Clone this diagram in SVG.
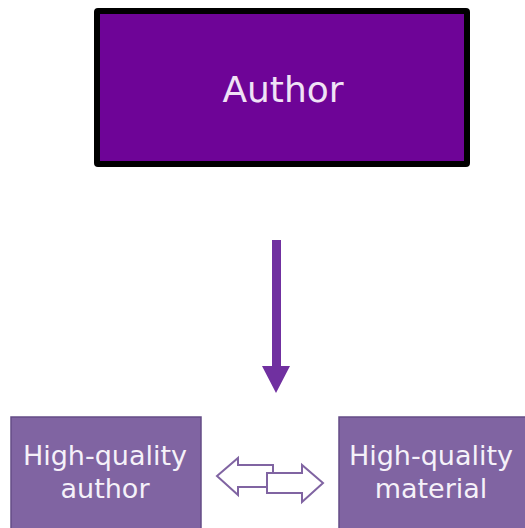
<svg xmlns="http://www.w3.org/2000/svg" width="525" height="528" viewBox="0 0 525 528">
<style>
.lbl{font-family:"DejaVu Sans","Liberation Sans",sans-serif;text-anchor:middle}
.box{fill:#8064a2;stroke:#644c86;stroke-width:1.5}
.dbl{fill:#ffffff;stroke:#8064a2;stroke-width:2;stroke-linejoin:miter}
</style>
<rect width="525" height="528" fill="#ffffff"/>
<g id="author">
<rect x="97" y="11" width="370" height="153" fill="#6e0497" stroke="#000000" stroke-width="6" rx="1"/>
<text class="lbl" x="283" y="102" font-size="36" fill="#f0e2f6">Author</text>
</g>
<g id="connectors">
<polygon points="272,240 281,240 281,366 290,366 276,393 262,366 272,366" fill="#7030a0"/>
<polygon class="dbl" points="217,476 238,458 238,465 273,465 273,487 238,487 238,495"/>
<polygon class="dbl" points="267,473 302,473 302,465 323,483 302,502 302,493 267,493"/>
</g>
<g id="hq-author">
<rect class="box" x="11" y="417" width="190" height="115"/>
<text class="lbl" x="105" y="465" font-size="27" fill="#f5f1f9">High-quality</text>
<text class="lbl" x="105" y="498" font-size="27" fill="#f5f1f9">author</text>
</g>
<g id="hq-material">
<rect class="box" x="339" y="417" width="190" height="115"/>
<text class="lbl" x="431" y="465" font-size="27" fill="#f5f1f9">High-quality</text>
<text class="lbl" x="431" y="498" font-size="27" fill="#f5f1f9">material</text>
</g>
</svg>
